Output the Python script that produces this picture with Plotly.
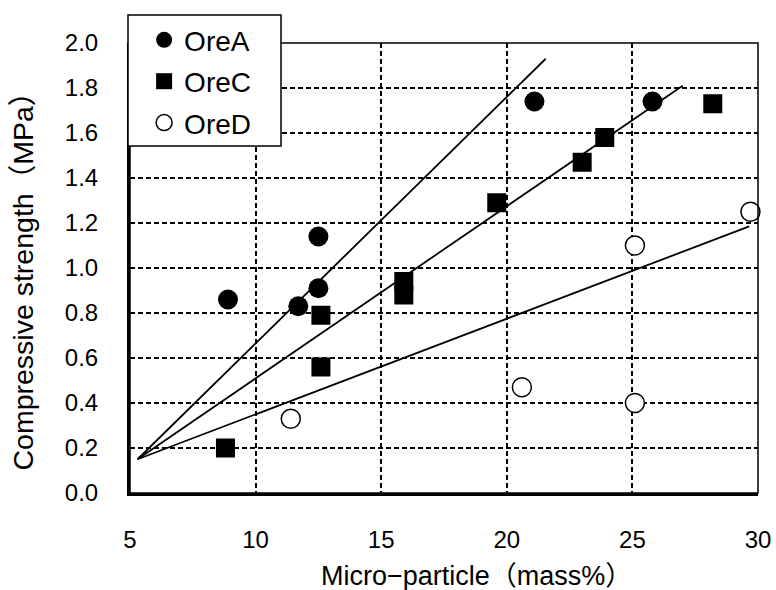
import plotly.graph_objects as go

# ---- data ----
oreA_x = [8.9, 11.7, 12.5, 12.5, 21.1, 25.8]
oreA_y = [0.86, 0.83, 0.91, 1.14, 1.74, 1.74]
oreC_x = [8.8, 12.6, 12.6, 15.9, 15.9, 19.6, 23.0, 23.9, 28.2]
oreC_y = [0.20, 0.79, 0.56, 0.94, 0.88, 1.29, 1.47, 1.58, 1.73]
oreD_x = [11.4, 20.6, 25.1, 25.1, 29.7]
oreD_y = [0.33, 0.47, 0.40, 1.10, 1.25]

trendA_x = [5.3, 21.55]
trendA_y = [0.15, 1.93]
trendC_x = [5.3, 27.0]
trendC_y = [0.15, 1.81]
trendD_x = [5.3, 29.65]
trendD_y = [0.15, 1.185]

x_ticks = [5, 10, 15, 20, 25, 30]
y_ticks = [0.0, 0.2, 0.4, 0.6, 0.8, 1.0, 1.2, 1.4, 1.6, 1.8, 2.0]

x_title = "Micro−particle（mass%）"
y_title = "Compressive strength（MPa）"

FONT = "Liberation Sans, Noto Sans CJK JP, sans-serif"

W, H = 776, 590
ML, MR, MT, MB = 130, 18, 43, 97
PW, PH = W - ML - MR, H - MT - MB


def px_x(p):
    return (p - ML) / PW


def px_y(p):
    return (H - MB - p) / PH


fig = go.Figure()

for tx, ty in [(trendA_x, trendA_y), (trendC_x, trendC_y), (trendD_x, trendD_y)]:
    fig.add_trace(go.Scatter(x=tx, y=ty, mode="lines",
                             line=dict(color="black", width=1.8),
                             showlegend=False, hoverinfo="skip"))

fig.add_trace(go.Scatter(x=oreA_x, y=oreA_y, mode="markers", name="OreA",
                         legendgroup="a", cliponaxis=False,
                         marker=dict(symbol="circle", size=20, color="black")))
fig.add_trace(go.Scatter(x=oreC_x, y=oreC_y, mode="markers", name="OreC",
                         legendgroup="c", cliponaxis=False,
                         marker=dict(symbol="square", size=19, color="black")))
fig.add_trace(go.Scatter(x=oreD_x, y=oreD_y, mode="markers", name="OreD",
                         legendgroup="d", cliponaxis=False,
                         marker=dict(symbol="circle", size=19, color="white",
                                     line=dict(color="black", width=1.5))))

fig.update_layout(
    width=W, height=H, autosize=False,
    margin=dict(l=ML, r=MR, t=MT, b=MB, autoexpand=False),
    paper_bgcolor="white", plot_bgcolor="white",
    font=dict(family=FONT, size=24, color="black"),
    showlegend=True,
    legend=dict(x=-0.003, y=1.062, xanchor="left", yanchor="top",
                bgcolor="rgba(0,0,0,0)", borderwidth=0,
                font=dict(size=28, color="black"),
                tracegroupgap=2, traceorder="grouped", indentation=16),
    xaxis=dict(range=[5, 30], tickvals=x_ticks, ticktext=[str(v) for v in x_ticks],
               showgrid=True, gridcolor="black", gridwidth=1.5, griddash="5px,3px",
               showline=True, linecolor="black", linewidth=2.5, automargin=False,
               zeroline=False, ticks="", ticklabelstandoff=23,
               tickfont=dict(size=24)),
    yaxis=dict(range=[0, 2.0], tickvals=y_ticks, ticktext=[f"{v:.1f}" for v in y_ticks],
               showgrid=True, gridcolor="black", gridwidth=1.5, griddash="5px,3px",
               showline=True, linecolor="black", linewidth=3, automargin=False,
               zeroline=False, ticks="", ticklabelstandoff=24,
               tickfont=dict(size=24)),
    shapes=[
        dict(type="rect", xref="paper", yref="paper", x0=0, y0=0, x1=1, y1=1,
             line=dict(color="black", width=1.5), layer="above"),
        # legend box
        dict(type="rect", xref="paper", yref="paper",
             x0=px_x(128), x1=px_x(281), y0=px_y(146), y1=px_y(15),
             line=dict(color="black", width=1.5), fillcolor="white", layer="above"),
    ],
    annotations=[
        dict(text=x_title, xref="paper", yref="paper", x=0.551, y=-0.184,
             xanchor="center", yanchor="middle", showarrow=False,
             font=dict(size=27, family=FONT)),
        dict(text=y_title, xref="paper", yref="paper", x=-0.170, y=0.486,
             xanchor="center", yanchor="middle", showarrow=False, textangle=-90,
             font=dict(size=28.5, family=FONT)),
    ],
)

fig.write_html("out.html",
               config={"displayModeBar": False, "responsive": False},
               post_script="document.body.style.margin='0';document.body.style.padding='0';")
